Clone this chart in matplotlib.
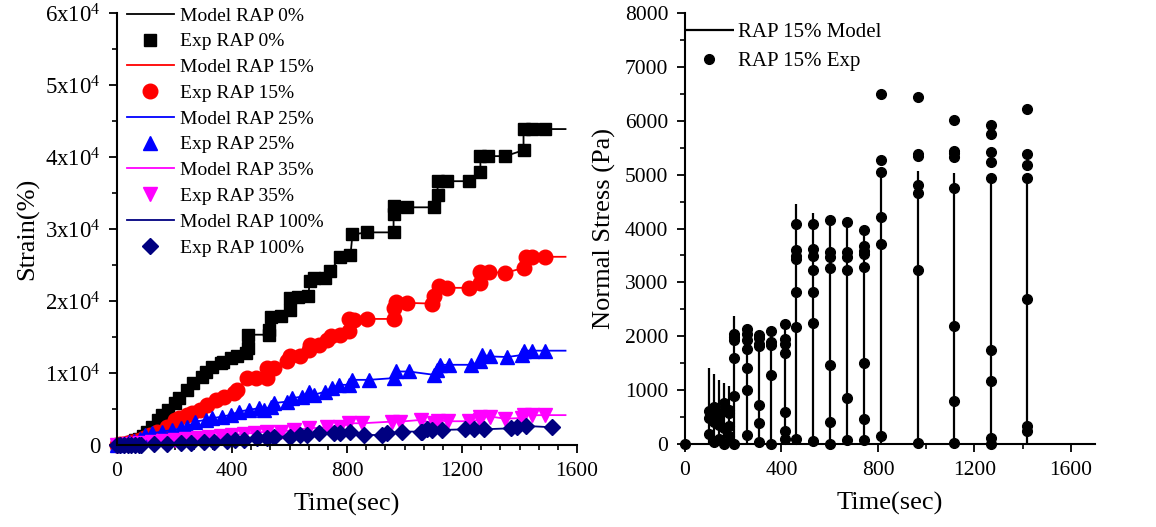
import matplotlib
matplotlib.use('Agg')
import matplotlib.pyplot as plt
from matplotlib.ticker import MultipleLocator, FixedLocator

plt.rcParams['font.family'] = ['Liberation Serif', 'DejaVu Serif']
plt.rcParams['mathtext.fontset'] = 'custom'
plt.rcParams['mathtext.rm'] = 'Liberation Serif'
plt.rcParams['mathtext.it'] = 'Liberation Serif:italic'

# ---- left panel: strain vs time ----
t0 = [0, 12, 25, 38, 50, 62, 75, 89, 106, 123, 141, 158, 179, 203, 214, 245, 266, 297, 308, 329,
      360, 370, 398, 419, 447, 457, 457, 527, 527, 534, 569, 600, 600, 631, 666, 670, 684, 725, 742, 774,
      812, 819, 871, 962, 962, 962, 1010, 1101, 1115, 1115, 1149, 1226, 1264, 1264, 1289, 1351, 1414, 1414,
      1445, 1487]
s0 = [0, 100, 200, 300, 450, 650, 900, 1250, 1810, 2510, 3480, 4180, 4880, 5850, 6550, 7660, 8640, 9470, 10170, 10870,
      11420, 11560, 12120, 12400, 12820, 13510, 15320, 15320, 16020, 17830, 17970, 18810, 20480, 20620, 20760, 22710, 23260, 23260, 24100, 26050,
      26330, 29250, 29530, 29530, 32040, 33150, 33010, 33010, 34690, 36640, 36640, 36640, 37890, 40120, 40120, 40120, 40950, 43880,
      43880, 43880]

t15 = [0, 12, 25, 38, 50, 65, 80, 93, 116, 140, 175, 203, 215, 244, 262, 290, 314, 343, 372, 406,
       418, 453, 482, 522, 522, 545, 592, 603, 638, 667, 673, 702, 731, 743, 777, 806, 806, 824, 870, 963,
       963, 969, 1009, 1096, 1102, 1119, 1148, 1226, 1264, 1264, 1293, 1351, 1415, 1421, 1444, 1488]
s15 = [0, 80, 160, 250, 350, 500, 700, 920, 1390, 1860, 2550, 3480, 3720, 4180, 4410, 4880, 5570, 6270, 6730, 7200,
       7660, 9290, 9290, 9290, 10680, 10680, 11610, 12300, 12300, 13230, 13930, 13930, 14630, 15180, 15320, 15780, 17510, 17410, 17510, 17510,
       19040, 19830, 19740, 19640, 20660, 22050, 21830, 21830, 22520, 24010, 24010, 23910, 24610, 26140, 26140, 26140]

t25 = [0, 20, 40, 60, 80, 99, 122, 157, 192, 221, 244, 273, 308, 331, 366, 395, 424, 458, 493, 511,
       534, 545, 592, 609, 644, 667, 685, 725, 748, 771, 806, 818, 876, 963, 969, 1015, 1102, 1114, 1125, 1154,
       1230, 1264, 1270, 1299, 1357, 1409, 1415, 1444, 1490]
s25 = [0, 150, 350, 600, 900, 1390, 1630, 1860, 2090, 2320, 2550, 3250, 3480, 3710, 3950, 4180, 4640, 4880, 5110, 4880,
       5340, 5810, 6030, 6500, 6730, 7420, 6970, 7420, 7900, 8360, 8360, 9050, 9050, 9290, 10210, 10210, 9750, 10450, 11140, 11140,
       11140, 11600, 12540, 12300, 12220, 12500, 13100, 13100, 13100]

t35 = [0, 40, 80, 120, 160, 200, 240, 280, 320, 360, 400, 440, 480, 522, 569, 615, 667, 731, 777, 806,
       853, 957, 986, 1056, 1102, 1115, 1153, 1226, 1264, 1264, 1299, 1351, 1409, 1415, 1445, 1487]
s35 = [0, 120, 250, 380, 500, 650, 800, 950, 1100, 1250, 1400, 1550, 1700, 1860, 1860, 2090, 2320, 2460, 2460, 3020,
       3020, 3250, 3250, 3480, 3000, 3400, 3300, 3300, 3480, 3950, 3950, 3650, 3750, 4130, 4130, 4150]

t100 = [0, 12, 25, 38, 50, 62, 75, 82, 128, 174, 221, 256, 302, 337, 383, 412, 441, 487, 522, 545,
        603, 638, 662, 702, 754, 777, 812, 859, 922, 940, 992, 1056, 1062, 1079, 1096, 1131, 1212, 1241, 1276, 1369,
        1392, 1421, 1514]
s100 = [0, 0, 0, 0, 0, 0, 0, 0, 90, 140, 230, 230, 460, 460, 600, 700, 700, 930, 930, 1160,
        1160, 1390, 1390, 1630, 1630, 1630, 1750, 1390, 1390, 1630, 1860, 1860, 1860, 2180, 2090, 2090, 2180, 2180, 2180, 2320,
        2460, 2650, 2460]

model_end = 1560
series_labels = ['RAP 0%', 'RAP 15%', 'RAP 25%', 'RAP 35%', 'RAP 100%']
strain_ticks = [0, 10000, 20000, 30000, 40000, 50000, 60000]
time_ticks = [0, 400, 800, 1200, 1600]

# ---- right panel: normal stress, RAP 15% ----
cycle_t = [99, 120, 140, 161, 181, 204, 259, 308, 358, 413, 459, 531, 603, 673, 742, 813, 965, 1117, 1268, 1418]
cycle_peak = [1410, 1300, 1190, 1130, 1080, 2380, 2150, 2050, 2100, 2230, 4450, 4280, 4160, 4120, 3975, 5040, 5070, 5025, 4945, 4930]
cycle_exp = [
    [620, 480, 180],
    [690, 560, 400, 30],
    [520, 350, 100],
    [760, 640, 300, 0],
    [640, 580, 330, 150],
    [2045, 1995, 1930, 1590, 900, 0],
    [2135, 2045, 1930, 1760, 1405, 1005, 170],
    [2025, 1965, 1850, 1810, 715, 390, 30],
    [2100, 1900, 1840, 1285, 0],
    [2230, 1950, 1850, 1685, 595, 235, 90],
    [4080, 3600, 3490, 3440, 2830, 2180, 90],
    [4080, 3620, 3490, 3230, 2830, 2240, 60],
    [4160, 3560, 3480, 3260, 1470, 405, 0],
    [4120, 3560, 3480, 3230, 850, 80],
    [3975, 3680, 3580, 3520, 3290, 1500, 460, 80],
    [6490, 5265, 5040, 4215, 3720, 140],
    [6440, 5375, 5340, 4800, 4665, 3230, 20],
    [6005, 5440, 5395, 5330, 4760, 2190, 800, 20],
    [5930, 5750, 5425, 5240, 4945, 1750, 1170, 110, 0],
    [6210, 5375, 5180, 4930, 2690, 330, 235],
]
start_t = [0]
start_s = [0]

fig = plt.figure(figsize=(11.56, 5.27), dpi=100)
ax1 = fig.add_axes([117 / 1156, 82 / 527, 460 / 1156, 432 / 527])
ax2 = fig.add_axes([685 / 1156, 83 / 527, 410 / 1156, 431 / 527])

styles = [
    ('black', 's', 8),
    ('#ff0000', 'o', 10.5),
    ('#0000ff', '^', 10.5),
    ('#ff00ff', 'v', 10.5),
    ('#000080', 'D', 8.5),
]
data = [(t0, s0, True), (t15, s15, True), (t25, s25, True), (t35, s35, True), (t100, s100, False)]

for (t, s, extend), (col, mk, ms), lab in zip(data, styles, series_labels):
    lt = t + [model_end] if extend else t
    ls = s + [s[-1]] if extend else s
    ax1.plot(lt, ls, color=col, lw=1.3, label='Model ' + lab, clip_on=False)
    ax1.plot(t, s, ls='none', marker=mk, ms=ms, color=col, label='Exp ' + lab, clip_on=False)

ax1.set_xlim(0, 1600)
ax1.set_ylim(0, 60000)
ax1.xaxis.set_major_locator(FixedLocator(time_ticks))
ax1.xaxis.set_minor_locator(MultipleLocator(400 / 6))
ax1.yaxis.set_major_locator(FixedLocator(strain_ticks))
ax1.yaxis.set_minor_locator(MultipleLocator(5000))
ax1.set_yticklabels(['0' if v == 0 else '%dx10$^{4}$' % (v // 10000) for v in strain_ticks])
ax1.set_xlabel('Time(sec)', fontsize=19, labelpad=9)
ax1.set_ylabel('Strain(%)', fontsize=19, labelpad=4)
ax1.legend(loc='upper left', bbox_to_anchor=(0.022, 1.014), frameon=False, fontsize=14,
           handlelength=2.4, handletextpad=0.3, labelspacing=0.42, borderpad=0, borderaxespad=0)

ax2.vlines(cycle_t, 0, cycle_peak, color='black', lw=1.6, label='RAP 15% Model')
exp_t = start_t + [t for t, vals in zip(cycle_t, cycle_exp) for _ in vals]
exp_s = start_s + [v for vals in cycle_exp for v in vals]
ax2.plot(exp_t, exp_s, ls='none', marker='o', ms=7, color='black', label='RAP 15% Exp', clip_on=False)
ax2.set_xlim(0, 1700)
ax2.set_ylim(0, 8000)
ax2.xaxis.set_major_locator(FixedLocator(time_ticks))
ax2.xaxis.set_minor_locator(MultipleLocator(200))
ax2.yaxis.set_major_locator(MultipleLocator(1000))
ax2.yaxis.set_minor_locator(MultipleLocator(500))
ax2.set_xlabel('Time(sec)', fontsize=19, labelpad=9)
ax2.set_ylabel('Normal Stress (Pa)', fontsize=19, labelpad=6)
ax2.legend(loc='upper left', bbox_to_anchor=(-0.003, 0.978), frameon=False, fontsize=15,
           handlelength=2.4, handletextpad=0.2, labelspacing=0.45, borderpad=0, borderaxespad=0)

for ax in (ax1, ax2):
    for side in ('top', 'right'):
        ax.spines[side].set_visible(False)
    for side in ('left', 'bottom'):
        ax.spines[side].set_linewidth(1.5)
    ax.tick_params(which='major', direction='out', length=6, width=1.3, labelsize=15.5, pad=6)
    ax.tick_params(which='minor', direction='out', length=3.5, width=1.2)
ax1.tick_params(axis='y', which='major', labelsize=16.5)

fig.savefig('out.png', dpi=100)
